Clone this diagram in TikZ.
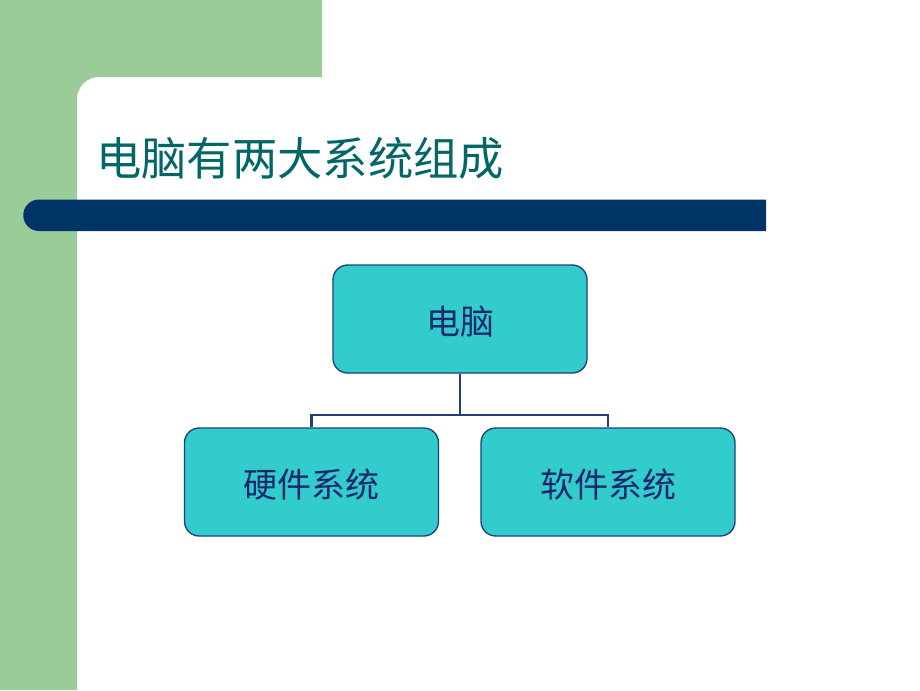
\documentclass[tikz,border=0pt]{standalone}
\usepackage{fontspec}
\newfontfamily\cjk{Noto Sans CJK SC}
\definecolor{bggreen}{RGB}{153,204,153}
\definecolor{barnavy}{RGB}{0,51,102}
\definecolor{titleteal}{RGB}{0,102,102}
\definecolor{boxfill}{RGB}{51,204,204}
\definecolor{boxline}{RGB}{31,63,120}
\definecolor{boxtext}{RGB}{25,40,110}
\newcommand{\lowered}[1]{\raisebox{-2.25pt}[\height][\depth]{#1}}
\tikzset{
  orgbox/.style={draw=boxline, line width=1pt, fill=boxfill, rounded corners=11pt,
    minimum width=190.5pt, minimum height=81pt, inner sep=0pt,
    font=\cjk\fontsize{25.5pt}{30pt}\selectfont, text=boxtext},
  conn/.style={draw=boxline, line width=1.8pt},
}
\begin{document}
\begin{tikzpicture}[x=0.75pt,y=-0.75pt]
\useasboundingbox (0,0) rectangle (920,690);
\fill[white] (0,0) rectangle (920,690);
\fill[bggreen] (0,0) -- (322,0) -- (322,77) -- (99,77) arc(270:180:22) -- (77,690) -- (0,690) -- cycle;
\fill[barnavy] (766,199.5) -- (39,199.5) arc(270:90:15.75) -- (766,231) -- cycle;
\node[anchor=west, inner sep=0pt, text=titleteal, font=\cjk\fontsize{34pt}{40pt}\selectfont] (title) at (96,158) {电脑有两大系统组成};
\node[orgbox] (top) at (460,319) {\lowered{电脑}};
\node[orgbox] (hw) at (311.5,482) {\lowered{硬件系统}};
\node[orgbox] (sw) at (608,482) {\lowered{软件系统}};
\coordinate (j) at (460,415);
\draw[conn] (top.south) -- (j);
\draw[conn] (hw.north) -- (hw.north |- j) -- (sw.north |- j) -- (sw.north);
\end{tikzpicture}
\end{document}
